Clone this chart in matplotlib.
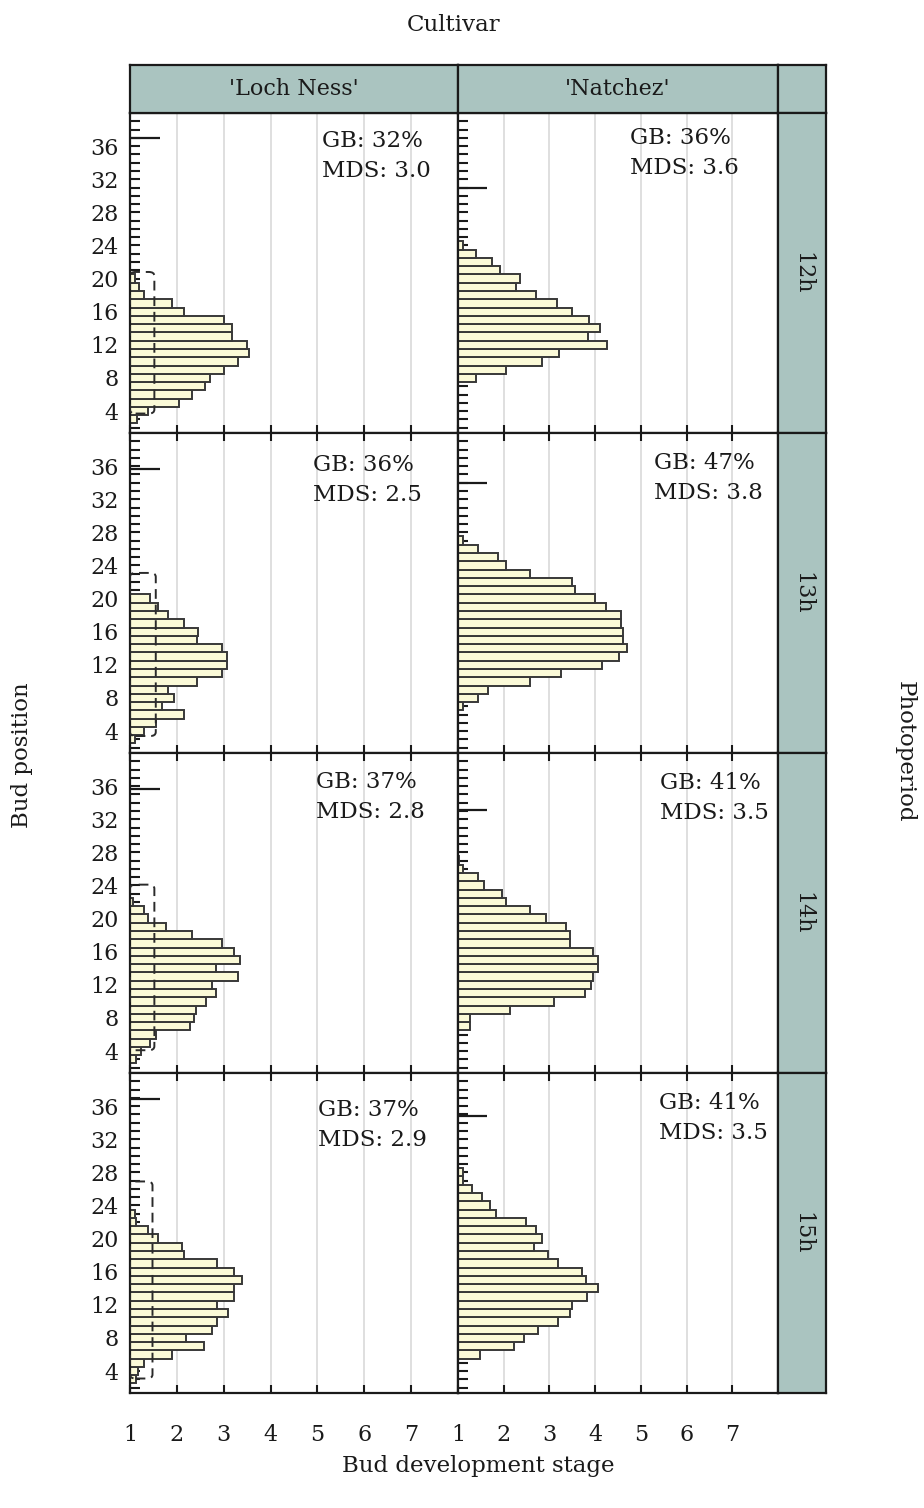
import matplotlib
matplotlib.use("Agg")
import matplotlib.pyplot as plt
from matplotlib.patches import FancyBboxPatch
import numpy as np

plt.rcParams["font.family"] = ["DejaVu Serif"]

W, H = 924, 1508

cultivars = ["'Loch Ness'", "'Natchez'"]
photoperiods = ["12h", "13h", "14h", "15h"]

# Mean bud development stage at each bud position (lowest position first)
ln_12h_start = 3
ln_12h = [1.14, 1.38, 2.04, 2.32, 2.59, 2.71, 3.01, 3.31, 3.53, 3.49,
          3.18, 3.18, 3.01, 2.16, 1.90, 1.30, 1.20, 1.10]
nz_12h_start = 8
nz_12h = [1.40, 2.05, 2.83, 3.22, 4.27, 3.84, 4.10, 3.87, 3.49, 3.17,
          2.71, 2.26, 2.35, 1.92, 1.74, 1.40, 1.10]
ln_13h_start = 3
ln_13h = [1.10, 1.30, 1.55, 2.16, 1.68, 1.94, 1.82, 2.42, 2.97, 3.08,
          3.08, 2.97, 2.42, 2.46, 2.16, 1.82, 1.60, 1.43]
nz_13h_start = 7
nz_13h = [1.10, 1.44, 1.65, 2.57, 3.26, 4.14, 4.53, 4.70, 4.61, 4.61,
          4.57, 4.57, 4.23, 4.00, 3.57, 3.49, 2.57, 2.05, 1.88, 1.44, 1.12]
ln_14h_start = 3
ln_14h = [1.12, 1.23, 1.43, 1.56, 2.29, 2.37, 2.41, 2.63, 2.84, 2.75,
          3.30, 2.84, 3.35, 3.22, 2.97, 2.33, 1.77, 1.39, 1.30, 1.06]
nz_14h_start = 7
nz_14h = [1.27, 1.27, 2.14, 3.09, 3.78, 3.91, 3.96, 4.06, 4.06, 3.96,
          3.44, 3.44, 3.36, 2.92, 2.57, 2.05, 1.96, 1.57, 1.44, 1.10, 1.03]
ln_15h_start = 3
ln_15h = [1.12, 1.18, 1.30, 1.90, 2.58, 2.20, 2.76, 2.85, 3.10, 2.85,
          3.22, 3.22, 3.39, 3.22, 2.85, 2.16, 2.11, 1.60, 1.38, 1.12, 1.11]
nz_15h_start = 6
nz_15h = [1.49, 2.23, 2.44, 2.75, 3.18, 3.44, 3.49, 3.83, 4.06, 3.79,
          3.72, 3.18, 2.97, 2.66, 2.84, 2.70, 2.49, 1.83, 1.70, 1.53,
          1.31, 1.12, 1.12]

stages = [[(ln_12h_start, ln_12h), (nz_12h_start, nz_12h)],
          [(ln_13h_start, ln_13h), (nz_13h_start, nz_13h)],
          [(ln_14h_start, ln_14h), (nz_14h_start, nz_14h)],
          [(ln_15h_start, ln_15h), (nz_15h_start, nz_15h)]]

# Percentage of green buds and mean development stage per panel
gb_pct = [[32, 36], [36, 47], [37, 41], [37, 41]]
mds = [[3.0, 3.6], [2.5, 3.8], [2.8, 3.5], [2.9, 3.5]]

# Mean number of nodes per shoot (long tick on the position axis)
mean_nodes = [[37.0, 31.0], [35.7, 34.0], [35.7, 33.1], [36.9, 34.8]]

# Reference band for 'Loch Ness': stage limit and position range
ref_stage = [1.52, 1.55, 1.52, 1.48]
ref_low = [3.7, 3.4, 4.1, 3.1]
ref_high = [20.8, 23.1, 24.1, 26.9]

# Annotation anchors (stage, position) per panel
note_xy = [[(5.09, 36.6), (4.76, 37.0)],
           [(4.90, 36.1), (5.28, 36.4)],
           [(4.97, 36.5), (5.41, 36.4)],
           [(5.01, 35.5), (5.39, 36.4)]]

stage_ticks = [1, 2, 3, 4, 5, 6, 7]
pos_ticks = [4, 8, 12, 16, 20, 24, 28, 32, 36]
pos_minor = list(range(2, 40))

STRIP = "#aac4c0"
BAR_FILL = "#fbfad8"
BAR_EDGE = "#383838"
INK = "#1a1a1a"

fig = plt.figure(figsize=(W / 100, H / 100), dpi=100)


def rect(x0, y0, x1, y1):
    return [x0 / W, 1 - y1 / H, (x1 - x0) / W, (y1 - y0) / H]


cols = [(130, 458), (458, 778)]
rows = [(113, 433), (433, 753), (753, 1073), (1073, 1393)]
YLIM = (1.35, 40.0)
XLIM = (1.0, 8.0)

for r, (y0, y1) in enumerate(rows):
    for c, (x0, x1) in enumerate(cols):
        ax = fig.add_axes(rect(x0, y0, x1, y1))
        ax.set_xlim(*XLIM)
        ax.set_ylim(*YLIM)
        for g in stage_ticks[1:]:
            ax.axvline(g, color="#d9d9d9", lw=1.2, zorder=0)
        start, vals = stages[r][c]
        pos = np.arange(start, start + len(vals))
        vals = np.asarray(vals)
        ax.barh(pos, vals - 1.0, left=1.0, height=1.0, color=BAR_FILL,
                edgecolor=BAR_EDGE, linewidth=1.4, zorder=2)
        if c == 0:
            box = FancyBboxPatch((1.0, ref_low[r]), ref_stage[r] - 1.0,
                                 ref_high[r] - ref_low[r],
                                 boxstyle="round,pad=0,rounding_size=0.12",
                                 fill=False, edgecolor="#2a2a2a",
                                 linestyle=(0, (5, 3)), linewidth=1.4,
                                 zorder=3, mutation_aspect=4)
            ax.add_patch(box)
        # long tick marking the mean node count
        ax.plot([1.0, 1.64], [mean_nodes[r][c]] * 2, color=INK, lw=1.6,
                zorder=4, solid_capstyle="butt")
        gx, gy = note_xy[r][c]
        ax.text(gx, gy, f"GB: {gb_pct[r][c]}%", fontsize=16.5, color=INK,
                ha="left", va="center", zorder=5)
        ax.text(gx, gy - 3.6, f"MDS: {mds[r][c]:.1f}", fontsize=16.5,
                color=INK, ha="left", va="center", zorder=5)

        ax.set_yticks(pos_ticks)
        ax.set_yticks(pos_minor, minor=True)
        ax.set_xticks(stage_ticks)
        ax.tick_params(axis="y", which="both", direction="in", length=7,
                       width=1.5, color=INK, right=False,
                       labelleft=(c == 0), labelsize=16, pad=8,
                       labelcolor=INK)
        ax.tick_params(axis="x", which="both", direction="in", length=6,
                       width=1.5, color=INK, top=(r > 0),
                       labelbottom=(r == len(rows) - 1), labelsize=16,
                       pad=22, labelcolor=INK)
        for s in ax.spines.values():
            s.set_linewidth(1.6)
            s.set_color(INK)

# column strips
for c, (x0, x1) in enumerate(cols):
    sax = fig.add_axes(rect(x0, 65, x1, 113))
    sax.set_facecolor(STRIP)
    sax.set_xticks([])
    sax.set_yticks([])
    for s in sax.spines.values():
        s.set_linewidth(1.6)
        s.set_color(INK)
    sax.text(0.5, 0.5, cultivars[c], ha="center", va="center",
             fontsize=16, color=INK, transform=sax.transAxes)

corner = fig.add_axes(rect(778, 65, 826, 113))
corner.set_facecolor(STRIP)
corner.set_xticks([])
corner.set_yticks([])
for s in corner.spines.values():
    s.set_linewidth(1.6)
    s.set_color(INK)

# row strips
for r, (y0, y1) in enumerate(rows):
    sax = fig.add_axes(rect(778, y0, 826, y1))
    sax.set_facecolor(STRIP)
    sax.set_xticks([])
    sax.set_yticks([])
    for s in sax.spines.values():
        s.set_linewidth(1.6)
        s.set_color(INK)
    sax.text(0.5, 0.5, photoperiods[r], ha="center", va="center",
             rotation=-90, fontsize=16, color=INK, transform=sax.transAxes)

fig.text(454 / W, 1 - 25 / H, "Cultivar", ha="center", va="center",
         fontsize=16.5, color=INK)
fig.text(478 / W, 1 - 1466 / H, "Bud development stage", ha="center",
         va="center", fontsize=16.5, color=INK)
fig.text(22 / W, 1 - 755 / H, "Bud position", ha="center", va="center",
         rotation=90, fontsize=16.5, color=INK)
fig.text(905 / W, 1 - 752 / H, "Photoperiod", ha="center", va="center",
         rotation=-90, fontsize=16.5, color=INK)

fig.savefig("out.png", dpi=100, facecolor="white")
